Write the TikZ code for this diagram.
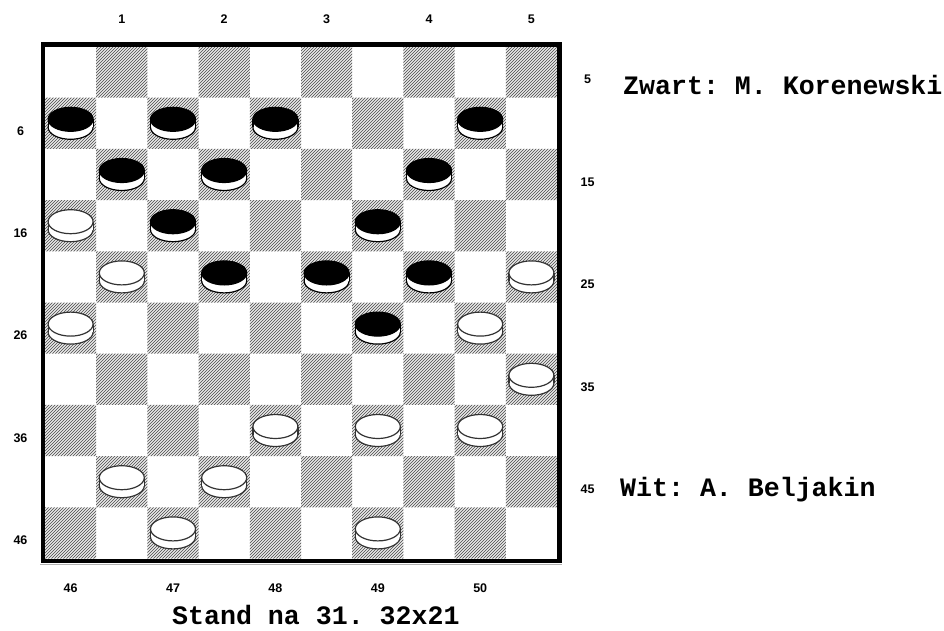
\documentclass[tikz,border=0pt]{standalone}
\usepackage{fontspec}
\setmainfont{Liberation Sans}
\newfontfamily\monob{Liberation Mono}[UprightFont={* Bold}]
\tikzset{
  hatchline/.style={draw=black!60,line width=0.85pt},
  numlab/.style={font=\fontsize{12.5}{13}\selectfont\bfseries,inner sep=0pt,anchor=center},
  caption/.style={font=\monob\fontsize{26.6}{28}\selectfont\frenchspacing,inner sep=0pt,anchor=base west},
  blackpc/.style={draw=black,line width=1.2pt},
  whitepc/.style={draw=black!80,line width=1.2pt}
}
\newcommand{\piece}[3]{% col, row, topcolor
  \pgfmathsetmacro{\cx}{45+51.2*(#1+0.5)}
  \pgfmathsetmacro{\cy}{46.5+51.2*(#2+0.5)}
  \ifx#3k\def\pst{blackpc}\def\pfill{black}\else\def\pst{whitepc}\def\pfill{white}\fi
  \filldraw[\pst,fill=white] (\cx,\cy+4) ellipse (22.5 and 12);
  \fill[white] (\cx-22.5,\cy-4) rectangle (\cx+22.5,\cy+4);
  \draw[\pst] (\cx-22.5,\cy-4) -- (\cx-22.5,\cy+4);
  \draw[\pst] (\cx+22.5,\cy-4) -- (\cx+22.5,\cy+4);
  \filldraw[\pst,fill=\pfill] (\cx,\cy-4) ellipse (22.5 and 12);
}
\begin{document}
\begin{tikzpicture}[x=1pt,y=-1pt]
\useasboundingbox[fill=white] (0,0) rectangle (944,630);
% hatched squares
\begin{scope}
  \clip
    \foreach \r in {0,...,9}{
      \foreach \c in {0,...,9}{
        \pgfextra{\pgfmathtruncatemacro{\odd}{mod(\r+\c,2)}}
        \ifnum\odd=1 (45+51.2*\c,46.5+51.2*\r) rectangle ++(51.2,51.2) \fi
      }
    };
  \foreach \k in {-513,-510,...,513}{
    \draw[hatchline] (45+\k,559) -- (45+\k+513,46);
  }
\end{scope}
% shadow and border
\draw[black!30,line width=1pt] (40,564.5) -- (561.5,564.5);
\draw[line width=4.5pt] (42.75,44.25) rectangle (559.25,560.75);
% pieces
\foreach \c/\r in {0/1,2/1,4/1,8/1,1/2,3/2,7/2,2/3,6/3,3/4,5/4,7/4,6/5}{\piece{\c}{\r}{k}}
\foreach \c/\r in {0/3,1/4,9/4,0/5,8/5,9/6,4/7,6/7,8/7,1/8,3/8,2/9,6/9}{\piece{\c}{\r}{w}}
% labels
\foreach \c/\t in {1/1,3/2,5/3,7/4,9/5}{\node[numlab] (top\t) at (45+51.2*\c+25.6,19.5) {\t};}
\foreach \c/\t in {0/46,2/47,4/48,6/49,8/50}{\node[numlab] (bot\t) at (45+51.2*\c+25.6,588) {\t};}
\foreach \r/\t in {1/6,3/16,5/26,7/36,9/46}{\node[numlab] (left\t) at (20.5,46.5+51.2*\r+25.6+7.5) {\t};}
\foreach \r/\t in {0/5,2/15,4/25,6/35,8/45}{\node[numlab] (right\t) at (587.5,46.5+51.2*\r+25.6+7.5) {\t};}
\node[caption] (zwart) at (623,94) {Zwart: M. Korenewski};
\node[caption] (wit) at (620,496) {Wit: A. Beljakin};
\node[caption] (stand) at (172,624) {Stand na 31. 32x21};
\end{tikzpicture}
\end{document}
